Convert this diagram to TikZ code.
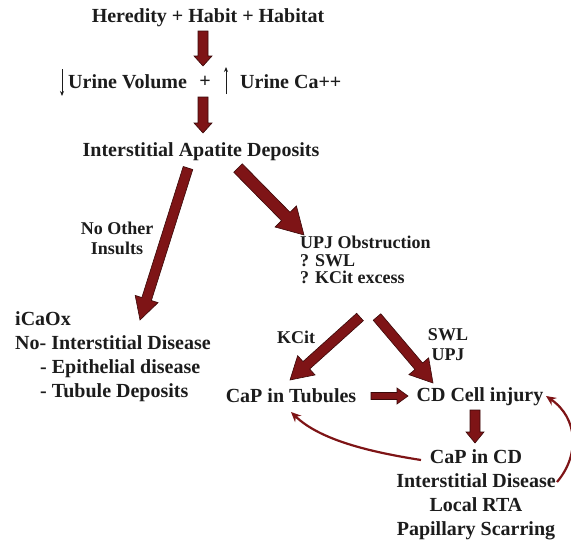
\documentclass[tikz,border=0pt]{standalone}
\usepackage{fontspec}
\setmainfont{Liberation Serif}
\usetikzlibrary{calc,arrows.meta}
\definecolor{blkred}{HTML}{7E1416}
\definecolor{blkedge}{HTML}{3A0808}
\definecolor{txt}{HTML}{1C1C1C}
% #1 from, #2 to, #3 half shaft, #4 half head, #5 head length
\newcommand\blockarrow[5]{%
  \coordinate (ba-h) at ($(#2)!#5!(#1)$);
  \filldraw[blkarrow] ($(#1)!#3!90:(#2)$) -- ($(ba-h)!#3!-90:(#1)$) -- ($(ba-h)!#4!-90:(#1)$) -- (#2)
    -- ($(ba-h)!#4!90:(#1)$) -- ($(ba-h)!#3!90:(#1)$) -- ($(#1)!#3!-90:(#2)$) -- cycle;}
\tikzset{
  blkarrow/.style={fill=blkred, draw=blkedge, line width=0.6pt, line join=miter},
  big/.style={inner sep=0pt, text=txt, font=\fontsize{20}{24.3}\selectfont\bfseries},
  small/.style={inner sep=0pt, text=txt, font=\fontsize{18}{18}\selectfont\bfseries},
  thinarrow/.style={draw=blkred, line width=2.2pt, -{Stealth[length=10pt,width=9pt]}},
  updown/.style={draw=txt, line width=1pt, -{Stealth[length=5pt,width=4pt]}}
}
\begin{document}
\begin{tikzpicture}[x=1pt,y=-1pt]
\useasboundingbox (0,0) rectangle (571,546);
% texts
\node[big] (her) at (208,18) {Heredity + Habit + Habitat};
\node[big, anchor=west] (uv) at (68,82) {Urine Volume};
\node[big] (plus) at (205,82) {+};
\node[big, anchor=west] (uca) at (240,82) {Urine Ca++};
\node[big] (iad) at (201,152) {Interstitial Apatite Deposits};
\node[small, align=center, font=\fontsize{18}{20}\selectfont\bfseries] (noi) at (117,238) {No Other\\Insults};
\node[small, align=left, anchor=north west, font=\fontsize{18}{17.5}\selectfont\bfseries] (upj) at (300,236) {UPJ Obstruction\\? SWL\\? KCit excess};
\node[big, align=left, anchor=north west] (ica) at (15,311) {iCaOx\\No- Interstitial Disease\\\hspace*{25pt}- Epithelial disease\\\hspace*{25pt}- Tubule Deposits};
\node[small] (kcit) at (296,337) {KCit};
\node[small, align=center, font=\fontsize{18}{20}\selectfont\bfseries] (swl) at (448,345) {SWL\\UPJ};
\node[big] (tub) at (291,396) {CaP in Tubules};
\node[big] (cd) at (480,397) {CD Cell injury};
\node[big, align=center, anchor=north] (bot) at (476,449) {CaP in CD\\Interstitial Disease\\Local RTA\\Papillary Scarring};
% small up/down arrows
\coordinate (dn1) at (62,69); \coordinate (dn2) at (62,96);
\coordinate (up1) at (226,94); \coordinate (up2) at (226,67);
\draw[updown] (dn1) -- (dn2);
\draw[updown] (up1) -- (up2);
% block arrows
\coordinate (a1s) at (203,31); \coordinate (a1e) at (203,66);
\blockarrow{a1s}{a1e}{5pt}{9pt}{10pt}
\coordinate (a2s) at (203,97); \coordinate (a2e) at (203,133);
\blockarrow{a2s}{a2e}{5pt}{9pt}{10pt}
\coordinate (a3s) at (188,168); \coordinate (a3e) at (140,320);
\blockarrow{a3s}{a3e}{5pt}{12pt}{22pt}
\coordinate (a4s) at (238,168); \coordinate (a4e) at (304,235);
\blockarrow{a4s}{a4e}{6pt}{15pt}{26pt}
\coordinate (a5s) at (360,317); \coordinate (a5e) at (290,380);
\blockarrow{a5s}{a5e}{5pt}{13pt}{22pt}
\coordinate (a6s) at (377,317); \coordinate (a6e) at (433,383);
\blockarrow{a6s}{a6e}{5pt}{13pt}{22pt}
\coordinate (a7s) at (371,396); \coordinate (a7e) at (408,396);
\blockarrow{a7s}{a7e}{3.5pt}{8pt}{11pt}
\coordinate (a8s) at (475,410); \coordinate (a8e) at (475,443);
\blockarrow{a8s}{a8e}{5pt}{9pt}{11pt}
% curved arrows
\coordinate (c1s) at (421,460); \coordinate (c1e) at (291,412);
\draw[thinarrow] (c1s) .. controls (370,452) and (320,440) .. (c1e);
\coordinate (c2s) at (557,482); \coordinate (c2e) at (546,396);
\draw[thinarrow] (c2s) .. controls (580,455) and (578,418) .. (c2e);
\end{tikzpicture}
\end{document}
